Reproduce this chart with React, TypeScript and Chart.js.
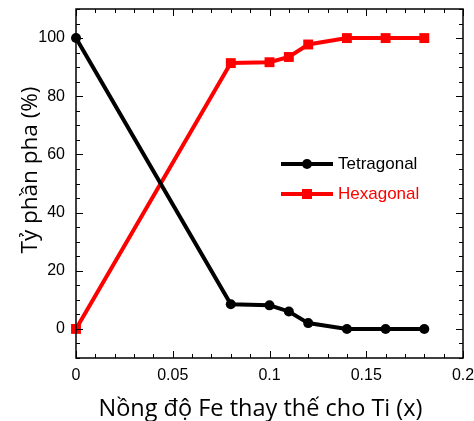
import React, { useEffect, useRef } from "react";
import { Chart, registerables } from "chart.js";

Chart.register(...registerables);

const xValues = [0, 0.08, 0.1, 0.11, 0.12, 0.14, 0.16, 0.18];
const tetragonal = [100, 8.5, 8.1, 6, 2, 0, 0, 0];
const hexagonal = [0, 91.4, 91.7, 93.5, 97.8, 100, 100, 100];
const seriesNames = ["Tetragonal", "Hexagonal"];
const xMajorTicks = [0, 0.05, 0.1, 0.15, 0.2];
const yMajorTicks = [0, 20, 40, 60, 80, 100];
const xTitle = "Nồng độ Fe thay thế cho Ti (x)";
const yTitle = "Tỷ phần pha (%)";

const TITLE_FONT = "'Open Sans', 'Noto Sans', sans-serif";
const TICK_FONT = "'Liberation Sans', Arial, sans-serif";

const framePlugin = {
  id: "framePlugin",
  afterDraw(chart: any) {
    const { ctx, chartArea, scales } = chart;
    const xs = scales.x;
    const ys = scales.y;
    const { left, right, top, bottom } = chartArea;
    ctx.save();
    ctx.strokeStyle = "#000";
    ctx.lineWidth = 1;
    const major = 7;
    const minor = 4;
    for (let i = 0; i <= 20; i++) {
      const v = i * 0.01;
      const px = Math.round(xs.getPixelForValue(v)) + 0.5;
      const len = i % 5 === 0 ? major : minor;
      ctx.beginPath();
      ctx.moveTo(px, bottom);
      ctx.lineTo(px, bottom - len);
      ctx.moveTo(px, top);
      ctx.lineTo(px, top + len);
      ctx.stroke();
    }
    for (let v = -10; v <= 110; v += 5) {
      const py = Math.round(ys.getPixelForValue(v)) + 0.5;
      const len = v % 20 === 0 ? major : minor;
      ctx.beginPath();
      ctx.moveTo(left, py);
      ctx.lineTo(left + len, py);
      ctx.moveTo(right, py);
      ctx.lineTo(right - len, py);
      ctx.stroke();
    }
    ctx.lineWidth = 1.5;
    ctx.strokeRect(left, top, right - left, bottom - top);

    const ds = chart.data.datasets;
    const legendY = [164, 194];
    ds.forEach((d: any, i: number) => {
      const y = legendY[i];
      ctx.strokeStyle = d.borderColor;
      ctx.fillStyle = d.borderColor;
      ctx.lineWidth = 4;
      ctx.beginPath();
      ctx.moveTo(281, y);
      ctx.lineTo(333, y);
      ctx.stroke();
      if (d.pointStyle === "rect") {
        ctx.fillRect(307 - 5, y - 5, 10, 10);
      } else {
        ctx.beginPath();
        ctx.arc(307, y, 5, 0, Math.PI * 2);
        ctx.fill();
      }
      ctx.font = `17px ${TICK_FONT}`;
      ctx.textAlign = "left";
      ctx.textBaseline = "middle";
      ctx.fillText(d.label, 338, y);
    });

    ctx.fillStyle = "#000";
    ctx.textAlign = "center";
    ctx.textBaseline = "alphabetic";
    ctx.font = `23.5px ${TITLE_FONT}`;
    ctx.fillText(xTitle, 260.5, 416);
    ctx.save();
    ctx.translate(37, 170);
    ctx.rotate(-Math.PI / 2);
    ctx.font = `22.5px ${TITLE_FONT}`;
    ctx.fillText(yTitle, 0, 0);
    ctx.restore();
    ctx.restore();
  },
};

const zeroPad = (s: any) => {
  s.paddingTop = 0;
  s.paddingBottom = 0;
  s.paddingLeft = 0;
  s.paddingRight = 0;
};

export default function App() {
  const ref = useRef<HTMLCanvasElement>(null);
  useEffect(() => {
    document.body.style.margin = "0";
    const chart = new Chart(ref.current as HTMLCanvasElement, {
      type: "line",
      data: {
        datasets: [
          {
            label: seriesNames[0],
            data: xValues.map((x, i) => ({ x, y: tetragonal[i] })),
            borderColor: "#000000",
            backgroundColor: "#000000",
            borderWidth: 4,
            pointStyle: "circle",
            pointRadius: 5,
            pointBorderWidth: 0,
            clip: false as any,
          },
          {
            label: seriesNames[1],
            data: xValues.map((x, i) => ({ x, y: hexagonal[i] })),
            borderColor: "#ff0000",
            backgroundColor: "#ff0000",
            borderWidth: 4,
            pointStyle: "rect",
            pointRadius: 7,
            pointBorderWidth: 0,
            clip: false as any,
          },
        ],
      },
      options: {
        animation: false,
        responsive: false,
        layout: { padding: { left: 0, right: 11, top: 9, bottom: 0 } },
        plugins: {
          legend: { display: false },
          tooltip: { enabled: false },
        },
        scales: {
          x: {
            type: "linear",
            min: 0,
            max: 0.2,
            grid: { display: false, drawTicks: false },
            border: { display: false },
            afterBuildTicks: (s: any) => {
              s.ticks = xMajorTicks.map((v) => ({ value: v }));
            },
            afterFit: (s: any) => {
              s.height = 63;
              zeroPad(s);
            },
            ticks: {
              padding: 8,
              color: "#000",
              font: { family: TICK_FONT, size: 16 },
              maxRotation: 0,
              callback: (v: any) => String(+Number(v).toFixed(2)),
            },
          },
          y: {
            type: "linear",
            min: -10,
            max: 110,
            grid: { display: false, drawTicks: false },
            border: { display: false },
            afterBuildTicks: (s: any) => {
              s.ticks = yMajorTicks.map((v) => ({ value: v }));
            },
            afterFit: (s: any) => {
              s.width = 76;
              zeroPad(s);
            },
            ticks: {
              padding: 11,
              color: "#000",
              font: { family: TICK_FONT, size: 16 },
              callback: (v: any) => String(v),
            },
          },
        },
      },
      plugins: [framePlugin],
    });
    return () => chart.destroy();
  }, []);
  return (
    <div style={{ position: "absolute", left: 0, top: 0, width: 474, height: 421 }}>
      <canvas ref={ref} width={474} height={421} />
    </div>
  );
}
